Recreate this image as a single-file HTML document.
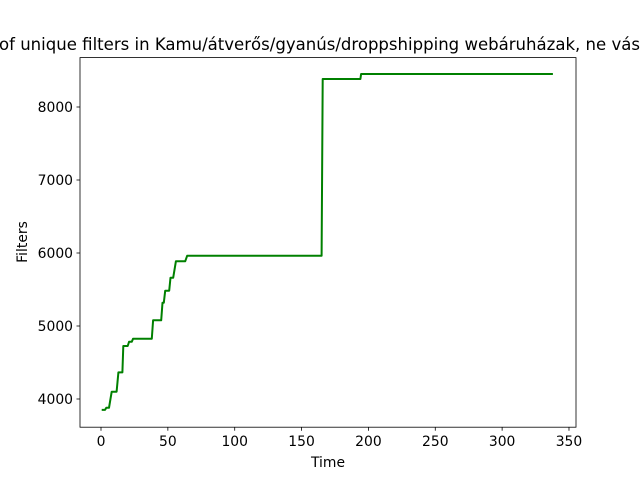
<!DOCTYPE html>
<html><head><meta charset="utf-8"><style>body{margin:0;background:#fff}svg{display:block;font-family:"DejaVu Sans","Liberation Sans",sans-serif}</style></head>
<body>
<svg id="chart" width="640" height="480">
<rect x="0" y="0" width="640" height="480" fill="#fff"/>
<text x="-1" y="50" font-size="16.7" textLength="641" lengthAdjust="spacingAndGlyphs">of unique filters in Kamu/átverős/gyanús/droppshipping webáruházak, ne vás</text>
<g id="plot"></g>
<rect x="80" y="57.6" width="496" height="369.6" fill="none" stroke="#000" stroke-width="0.8"/>
<text x="328" y="467" font-size="13.9" text-anchor="middle">Time</text>
<text transform="translate(27,242) rotate(-90)" font-size="13.9" text-anchor="middle">Filters</text>
</svg>
<script>
const times = [0.5,3,4,6,8,11.7,13,16,16.7,20,21,23,24,38,39,45,46,47,48,51,52,54,56,63,64.5,165,165.8,194,194.5,338];
const values = [3850,3850,3880,3880,4100,4100,4365,4365,4726,4726,4785,4785,4826,4826,5078,5078,5319,5319,5484,5484,5662,5662,5886,5886,5963,5963,8384,8384,8452,8452];
const xTicks = [0,50,100,150,200,250,300,350];
const yTicks = [4000,5000,6000,7000,8000];
const xs = t => 101 + t*1.3371;
const ys = v => 399 - (v-4000)*0.0730;
const NS = "http://www.w3.org/2000/svg";
const plot = document.getElementById('plot');
function mk(tag, attrs){const e=document.createElementNS(NS,tag);for(const k in attrs)e.setAttribute(k,attrs[k]);plot.appendChild(e);return e;}
xTicks.forEach(t=>{
  const l=mk('line',{x1:xs(t),x2:xs(t),y1:427.2,y2:430.7,stroke:'#000','stroke-width':0.8});
  
  
  const tx=mk('text',{x:xs(t),y:446,'font-size':13.9,'text-anchor':'middle'});
  tx.textContent=t;
  
  
});
yTicks.forEach(v=>{
  const l=mk('line',{x1:76.5,x2:80,y1:ys(v),y2:ys(v),stroke:'#000','stroke-width':0.8});
  
  
  const tx=mk('text',{x:73,y:ys(v)+5,'font-size':13.9,'text-anchor':'end'});
  tx.textContent=v;
  
  
});
const pts=times.map((t,i)=>xs(t).toFixed(1)+','+ys(values[i]).toFixed(1)).join(' ');
const line=mk('polyline',{points:pts,fill:'none',stroke:'#008000','stroke-width':2,'stroke-linejoin':'round'});


</script>
</body></html>
